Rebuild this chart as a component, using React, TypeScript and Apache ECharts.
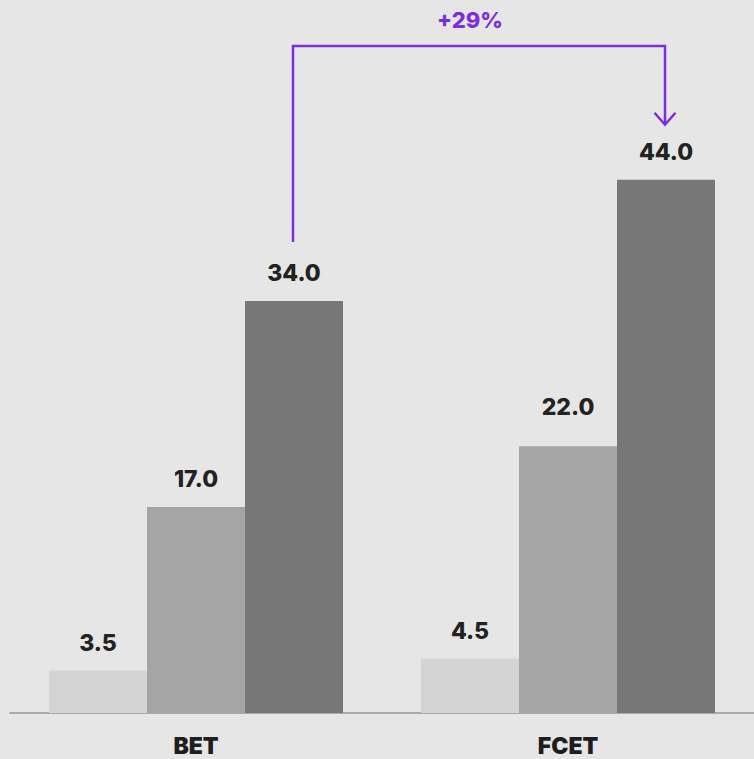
import React, { useEffect, useRef } from "react";
import * as echarts from "echarts";

const categories = ["BET", "FCET"];
const seriesLow = [3.5, 4.5];
const seriesMid = [17.0, 22.0];
const seriesHigh = [34.0, 44.0];
const changeLabel = "+29%";

const barColors = ["#d4d4d4", "#a5a5a5", "#777777"];
const purple = "#7c2ee0";
const BAR_W = 98;

export default function App() {
  const ref = useRef<HTMLDivElement>(null);
  useEffect(() => {
    document.body.style.margin = "0";
    const chart = echarts.init(ref.current!, null, { renderer: "svg" });
    const labelStyle = {
      show: true,
      position: "top" as const,
      distance: 16,
      fontFamily: "Inter",
      fontWeight: 800,
      fontSize: 23,
      color: "#222222",
      formatter: (p: any) => Number(p.value).toFixed(1),
    };
    const mk = (data: any[], color: string) => ({
      type: "bar",
      data,
      barWidth: BAR_W,
      barGap: "0%",
      itemStyle: { color },
      label: labelStyle,
    });
    const midData = seriesMid.map((v, i) =>
      i === 1 ? { value: v, label: { distance: 28 } } : v
    );
    chart.setOption({
      animation: false,
      backgroundColor: "#e6e6e6",
      grid: { left: 10, right: 0, top: 107, bottom: 46, containLabel: false },
      xAxis: {
        type: "category",
        data: categories,
        axisLine: { show: true, lineStyle: { color: "#aaaaaa", width: 2 } },
        axisTick: { show: false },
        axisLabel: {
          margin: 21,
          fontFamily: "Inter",
          fontWeight: 900,
          fontSize: 23,
          color: "#1e1e1e",
        },
      },
      yAxis: {
        type: "value",
        min: 0,
        max: 50,
        show: false,
        splitLine: { show: false },
      },
      series: [
        mk(seriesLow, barColors[0]),
        mk(midData, barColors[1]),
        mk(seriesHigh, barColors[2]),
      ],
    });

    const p0 = chart.convertToPixel({ seriesIndex: 2 }, [0, seriesHigh[0]]);
    const p1 = chart.convertToPixel({ seriesIndex: 2 }, [1, seriesHigh[1]]);
    const x0 = p0[0] + BAR_W - 1;
    const x1 = p1[0] + BAR_W - 1;
    const yTopLine = 46;
    const yStart = p0[1] - 59;
    const yEnd = p1[1] - 55;
    chart.setOption({
      graphic: [
        {
          type: "polyline",
          shape: {
            points: [
              [x0, yStart],
              [x0, yTopLine],
              [x1, yTopLine],
              [x1, yEnd],
            ],
          },
          style: { stroke: purple, lineWidth: 2.5, fill: "none" },
        },
        {
          type: "polyline",
          shape: {
            points: [
              [x1 - 10.5, yEnd - 12],
              [x1, yEnd],
              [x1 + 10.5, yEnd - 12],
            ],
          },
          style: { stroke: purple, lineWidth: 2.5, fill: "none" },
        },
        {
          type: "text",
          x: (x0 + x1) / 2 - 9,
          y: 20,
          style: {
            text: changeLabel,
            fill: purple,
            fontFamily: "Inter",
            fontWeight: 800,
            fontSize: 22,
            align: "center",
            verticalAlign: "middle",
          },
        },
      ],
    });
    return () => chart.dispose();
  }, []);
  return (
    <div
      ref={ref}
      style={{ position: "absolute", left: 0, top: 0, width: 754, height: 759 }}
    />
  );
}
